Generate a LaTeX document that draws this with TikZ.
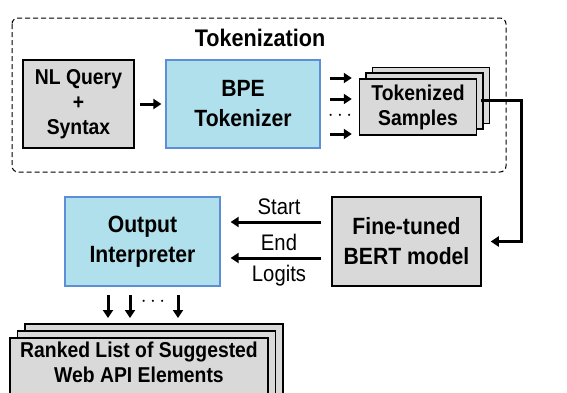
\documentclass[tikz,border=0pt]{standalone}
\usepackage{fontspec}
\setmainfont{Liberation Sans}[FakeStretch=0.9]
\usetikzlibrary{arrows.meta}
\definecolor{boxgray}{HTML}{D9D9D9}
\definecolor{boxblue}{HTML}{B0E0EB}
\definecolor{blueedge}{HTML}{5B8FD6}
\tikzset{
  graybox/.style={draw=black, line width=1.5pt, fill=boxgray, align=center, font=\fontsize{21.5}{25}\selectfont\bfseries, inner sep=0pt},
  bluebox/.style={draw=blueedge, line width=1.2pt, fill=boxblue, align=center, font=\fontsize{23.5}{30}\selectfont\bfseries, inner sep=0pt},
  arr/.style={line width=3pt, -{Triangle[length=8pt,width=10pt]}},
  lbl/.style={font=\fontsize{22.5}{24}\selectfont, inner sep=0pt},
  dotsty/.style={font=\fontsize{22}{22}\selectfont, inner sep=0pt}
}
\begin{document}
\begin{tikzpicture}[x=1pt,y=-1pt]
\useasboundingbox (0,0) rectangle (567,392);
% dashed tokenization container
\draw[dash pattern=on 5pt off 3pt, line width=1pt, rounded corners=6pt] (12,18) rectangle (506,172);
\node[font=\fontsize{24}{26}\selectfont\bfseries, inner sep=0pt] (tokt) at (260,38) {Tokenization};
% NL query
\node[graybox, minimum width=111pt, minimum height=88pt] (nl) at (78.5,104) {NL Query\\+\\Syntax};
\node[bluebox, minimum width=154pt, minimum height=88pt] (bpe) at (243,104) {BPE\\Tokenizer};
\draw[arr] ([xshift=5pt]nl.east) -- ([xshift=-4pt]bpe.west);
% tokenized samples stack
\node[graybox, minimum width=117pt, minimum height=56pt] (ts3) at (431,95.5) {};
\node[graybox, minimum width=117pt, minimum height=56pt] (ts2) at (424.5,101) {};
\node[graybox, minimum width=117pt, minimum height=56pt] (ts1) at (418,107) {Tokenized\\Samples};
\coordinate (s1) at (330,78);
\coordinate (s2) at (330,99);
\coordinate (s4) at (330,134);
\draw[arr] (s1) -- ([xshift=-7pt]s1 -| ts1.west);
\draw[arr] (s2) -- ([xshift=-7pt]s2 -| ts1.west);
\draw[arr] (s4) -- ([xshift=-7pt]s4 -| ts1.west);
\node[dotsty] (dots1) at (340,116) {$\cdots$};
% BERT
\node[graybox, font=\fontsize{23.5}{30}\selectfont\bfseries, minimum width=149pt, minimum height=89pt] (bert) at (406.5,241.5) {Fine-tuned\\BERT model};
\coordinate (turn1) at (521,100);
\draw[arr] ([xshift=4pt]ts1.east |- turn1) -- (turn1) |- ([xshift=9pt]bert.east);
% Output interpreter
\node[bluebox, minimum width=155pt, minimum height=89pt] (oi) at (142.5,241.5) {Output\\Interpreter};
\draw[arr] ([xshift=-10pt]bert.west |- 0,222) coordinate (st) -- ([xshift=10pt]oi.east |- st);
\draw[arr] ([xshift=-10pt]bert.west |- 0,258) coordinate (en) -- ([xshift=10pt]oi.east |- en);
\node[lbl] (lstart) at (279,207) {Start};
\node[lbl] (lend) at (279,242) {End};
\node[lbl] (llog) at (279,276) {Logits};
% ranked list stack
\node[graybox, minimum width=258pt, minimum height=70pt] (rl3) at (154,359) {};
\node[graybox, minimum width=258pt, minimum height=70pt] (rl2) at (146.5,366) {};
\node[graybox, minimum width=258pt, minimum height=70pt] (rl1) at (139,373) {};
\node[font=\fontsize{21.5}{25}\selectfont\bfseries, align=center, inner sep=0pt, anchor=north] (rltxt) at (139,342) {Ranked List of Suggested\\Web API Elements};
\draw[arr] (108,295) coordinate (d1) -- (108,318);
\draw[arr] (130,295) coordinate (d2) -- (130,318);
\draw[arr] (178,295) coordinate (d3) -- (178,318);
\node[dotsty] (dots2) at (153,302) {$\cdots$};
\end{tikzpicture}
\end{document}
